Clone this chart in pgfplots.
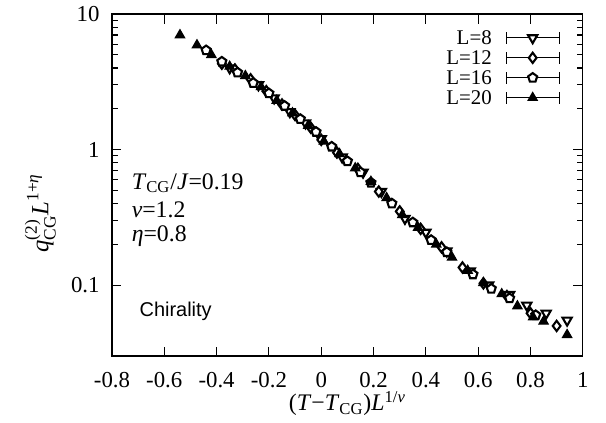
\documentclass[border=0pt]{standalone}
\usepackage{fontspec}
\setmainfont{Liberation Serif}
\newfontfamily\sansf{Liberation Sans}
\usepackage{amsmath}
\usepackage{pgfplots}
\pgfplotsset{compat=1.18}
\begin{document}
\begin{tikzpicture}
\begin{axis}[
  name=ax,
  scale only axis,
  width=247.7pt, height=179.9pt,
  ymode=log,
  xmin=-0.8, xmax=1, ymin=0.03, ymax=10,
  xtick={-0.8,-0.6,-0.4,-0.2,0,0.2,0.4,0.6,0.8,1},
  xticklabels={-0.8,-0.6,-0.4,-0.2,0,0.2,0.4,0.6,0.8,1},
  ytick={0.1,1,10}, yticklabels={0.1,1,10},
  tick align=inside, major tick length=5pt, minor tick length=3pt,
  xtick pos=both, ytick pos=both,
  axis line style={line width=0.6pt},
  every tick/.style={black, line width=0.6pt},
  xticklabel style={yshift=-5pt, font=\fontsize{12}{14}\selectfont},
  yticklabel style={xshift=-3pt, font=\fontsize{12}{14}\selectfont},
  /pgf/number format/assume math mode=true,
  xlabel={(\textit{T}−\textit{T}\textsubscript{CG})\textit{L}\textsuperscript{1/\textit{ν}}},
  ylabel={$\textit{q}^{\text{(2)}}_{\text{CG}}\textit{L}^{\text{1+}\textit{η}}$},
  xlabel style={at={(axis description cs:0.5,-0.14)}, anchor=center, font=\fontsize{12.5}{14}\selectfont},
  ylabel style={at={(axis description cs:-0.152,0.418)}, anchor=center, font=\fontsize{13}{15}\selectfont},
  legend style={at={(rel axis cs:0.953,0.953)}, anchor=north east, draw=none, fill=none,
    font=\fontsize{11}{13}\selectfont, row sep=2.7pt, inner sep=0pt,
    nodes={inner sep=0pt, text height=7.6pt, text depth=0.2pt},
    /tikz/every odd column/.style={column sep=7pt}},
  legend cell align=right,
  legend plot pos=right,
  legend image code/.code={
    \draw[black, line width=0.6pt, |-|] (0cm,0cm) -- (1.0cm,0cm);
    \draw[mark repeat=2, mark phase=2, #1] plot coordinates {(0cm,0cm) (0.5cm,0cm) (1.0cm,0cm)};
  },
  clip=false,
]
% L=8 (open down triangles)
\addplot[only marks, mark=triangle*, mark size=2.8pt, mark options={rotate=180, fill=white, draw=black, line width=1.1pt}] coordinates {
(-0.35,4.0) (-0.24,3.0) (-0.18,2.4) (-0.12,1.9) (-0.06,1.57) (0.0,1.2) (0.08,0.88) (0.16,0.68) (0.23,0.49) (0.32,0.31) (0.40,0.245) (0.48,0.178) (0.57,0.127) (0.64,0.100) (0.72,0.085) (0.786,0.071) (0.86,0.062) (0.94,0.055)
};
\addlegendentry{L=8}
% L=12 (open diamonds)
\addplot[only marks, mark=diamond*, mark size=2.7pt, mark options={fill=white, draw=black, line width=1.1pt}] coordinates {
(-0.38,4.3) (-0.33,3.9) (-0.27,3.3) (-0.21,2.7) (-0.15,2.15) (-0.10,1.8) (-0.04,1.45) (0.0,1.18) (0.06,0.95) (0.14,0.72) (0.22,0.49) (0.30,0.35) (0.38,0.26) (0.46,0.19) (0.54,0.135) (0.62,0.103) (0.71,0.083) (0.80,0.062) (0.90,0.050)
};
\addlegendentry{L=12}
% L=16 (open pentagons)
\addplot[only marks, mark=pentagon*, mark size=2.5pt, mark options={fill=white, draw=black, line width=1.1pt}] coordinates {
(-0.44,5.4) (-0.38,4.45) (-0.32,3.7) (-0.26,3.1) (-0.20,2.6) (-0.14,2.1) (-0.08,1.68) (-0.02,1.35) (0.04,1.05) (0.10,0.82) (0.15,0.68) (0.19,0.57) (0.27,0.40) (0.35,0.29) (0.42,0.215) (0.48,0.175) (0.58,0.12) (0.65,0.094) (0.72,0.080) (0.82,0.060)
};
\addlegendentry{L=16}
% L=20 (filled up triangles)
\addplot[only marks, mark=triangle*, mark size=2.8pt, mark options={fill=black, draw=black, line width=0.6pt}] coordinates {
(-0.54,7.0) (-0.475,5.9) (-0.42,5.0) (-0.35,4.1) (-0.29,3.5) (-0.23,2.9) (-0.17,2.3) (-0.11,1.86) (-0.05,1.5) (0.01,1.15) (0.07,0.93) (0.13,0.73) (0.19,0.58) (0.25,0.44) (0.31,0.33) (0.37,0.265) (0.44,0.20) (0.50,0.16) (0.56,0.128) (0.62,0.104) (0.69,0.086) (0.75,0.070) (0.81,0.058) (0.85,0.054) (0.94,0.043)
};
\addlegendentry{L=20}
\node[anchor=west, font=\fontsize{12.5}{14}\selectfont] at (axis cs:-0.75,0.566) {\textit{T}\textsubscript{CG}/\textit{J}=0.19};
\node[anchor=west, font=\fontsize{12.5}{14}\selectfont] at (axis cs:-0.75,0.358) {\textit{ν}=1.2};
\node[anchor=west, font=\fontsize{12.5}{14}\selectfont] at (axis cs:-0.75,0.23) {\textit{η}=0.8};
\node[anchor=west, font=\sansf\fontsize{10.5}{12}\selectfont] at (axis cs:-0.72,0.0646) {Chirality};
\end{axis}
\path (ax.south west) ++(-58.9pt,-34.7pt) rectangle ++(318.8pt,220.4pt);
\end{tikzpicture}
\end{document}
